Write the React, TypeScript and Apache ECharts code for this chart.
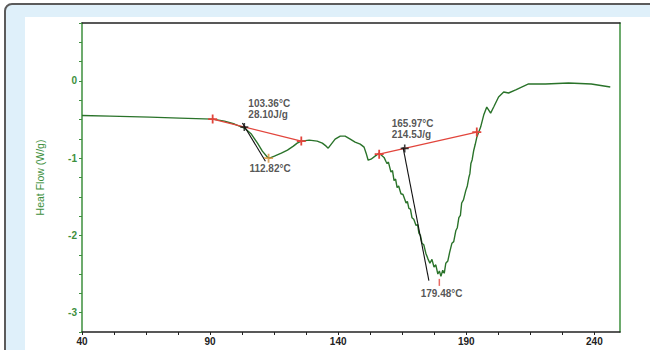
import React, { useEffect, useRef } from "react";
import * as echarts from "echarts";

// DSC thermogram: heat flow (W/g) against temperature (°C)
const tempC = [
  40, 50.9, 66.5, 78.1, 91.0, 95.6, 99.5, 103.4, 106.1, 108.5, 110.4, 112.4, 113.2,
  115.1, 117.8, 120.2, 122.5, 124.0, 125.6, 128.7, 131.8, 133.8, 135.3, 136.1, 137.3,
  138.8, 140.8, 142.7, 144.7, 146.6, 148.6, 150.1, 150.9, 151.7, 152.8, 154.4, 156.0,
  157.9, 158.6, 159.1, 159.6, 160.6, 161.2, 161.8, 162.4, 163.0, 163.6, 164.5, 165.3,
  166.5, 167.0, 167.6, 168.2, 168.8, 169.5, 170.4, 171.0, 171.5, 172.1, 172.7, 173.4,
  174.2, 175.0, 175.8, 176.6, 177.4, 178.1, 178.9, 179.5, 180.1, 180.8, 181.4, 182.0,
  182.8, 183.5, 184.4, 185.1, 185.9, 186.5, 187.1, 187.7, 188.2,
  188.9, 189.8, 190.4, 191.0, 191.4, 191.8, 192.3, 192.9, 193.5, 194.1, 195.6, 196.8,
  198.0, 199.5, 200.7, 202.6, 204.6, 206.5, 209.3, 214.3, 220.9, 229.9, 238.8, 246.2,
];
const heatFlow = [
  -0.448, -0.455, -0.468, -0.481, -0.494, -0.52, -0.558, -0.61, -0.688, -0.805, -0.909, -0.987, -1.0,
  -0.974, -0.935, -0.896, -0.844, -0.805, -0.779, -0.766, -0.779, -0.805, -0.844, -0.87, -0.818,
  -0.753, -0.714, -0.714, -0.753, -0.792, -0.818, -0.857, -0.935, -1.026, -1.013, -0.974, -0.935,
  -0.99, -1.04, -1.07, -1.05, -1.18, -1.16, -1.29, -1.27, -1.38, -1.36, -1.46, -1.47,
  -1.58, -1.56, -1.65, -1.66, -1.77, -1.79, -1.87, -1.86, -1.97, -2.0, -2.1, -2.12,
  -2.23, -2.3, -2.36, -2.31, -2.41, -2.38, -2.5, -2.46, -2.53, -2.45, -2.49, -2.36,
  -2.33, -2.22, -2.1, -2.08, -1.94, -1.9, -1.77, -1.74, -1.58,
  -1.54, -1.42, -1.36, -1.25, -1.2, -1.07, -1.02, -0.9, -0.82, -0.73, -0.597, -0.442,
  -0.338, -0.416, -0.338, -0.208, -0.143, -0.156, -0.117, -0.039, -0.039, -0.026, -0.039, -0.078,
];

// integration baselines (start and end of each peak)
const baseline1 = [[91.0, -0.494], [125.6, -0.779]];
const baseline2 = [[156.0, -0.948], [194.1, -0.662]];
// onset tangents
const tangent1 = [[102.6, -0.545], [111.6, -1.039]];
const tangent2 = [[165.3, -0.857], [175.4, -2.584]];

// peak analysis results
const onsetTemps = [103.36, 165.97];
const onsetFlows = [-0.596, -0.873];
const enthalpies = ["28.10J/g", "214.5J/g"];
const peakTemps = [112.82, 179.48];
const peakFlows = [-1.0, -2.53];

const xTicks = [40, 52.5, 65, 77.5, 90, 102.5, 115, 127.5, 140, 152.5, 165, 177.5, 190, 202.5, 215, 227.5, 240];
const xLabels = [40, 90, 140, 190, 240];
const yTicks = [-3.25, -3, -2.75, -2.5, -2.25, -2, -1.75, -1.5, -1.25, -1, -0.75, -0.5, -0.25, 0, 0.25, 0.5, 0.75];
const yLabels = [-3, -2, -1, 0];

const GREEN = "#2a732a";
const AXIS_GREEN = "#3d8f3d";
const RED = "#e2453c";
const FONT = "Liberation Sans";
const PLUS = "path://M4,0H6V4H10V6H6V10H4V6H0V4H4Z";

export default function App() {
  const ref = useRef<HTMLDivElement>(null);

  useEffect(() => {
    if (!ref.current) return;
    const chart = echarts.init(ref.current, null, { renderer: "svg" });
    const curve = tempC.map((t, i) => [t, heatFlow[i]]);
    const labelStyle = {
      show: true,
      fontFamily: FONT,
      fontSize: 10,
      fontWeight: "bold" as const,
      color: "#2a2a2a",
      lineHeight: 11,
    };

    chart.setOption({
      animation: false,
      backgroundColor: "transparent",
      grid: { left: 82, top: 23, right: 30, bottom: 18 },
      xAxis: [
        {
          type: "value",
          min: 40,
          max: 250,
          axisLine: { show: true, onZero: false, lineStyle: { color: "#222", width: 1.5 } },
          axisTick: { show: true, length: 3, customValues: xTicks, lineStyle: { color: "#222" } },
          axisLabel: {
            customValues: xLabels,
            color: "#222",
            fontFamily: FONT,
            fontSize: 10,
            fontWeight: "bold",
            margin: 4,
          },
          splitLine: { show: false },
        },
        {
          type: "value",
          position: "top",
          min: 40,
          max: 250,
          axisLine: { show: true, onZero: false, lineStyle: { color: "#222", width: 1.5 } },
          axisTick: { show: false },
          axisLabel: { show: false },
          splitLine: { show: false },
        },
      ],
      yAxis: [
        {
          type: "value",
          min: -3.25,
          max: 0.75,
          name: "Heat Flow (W/g)",
          nameLocation: "middle",
          nameGap: 37,
          nameTextStyle: { color: AXIS_GREEN, fontFamily: FONT, fontSize: 10.5 },
          axisLine: { show: true, onZero: false, lineStyle: { color: AXIS_GREEN, width: 1.5 } },
          axisTick: { show: true, length: 3, customValues: yTicks, lineStyle: { color: AXIS_GREEN } },
          axisLabel: {
            customValues: yLabels,
            color: AXIS_GREEN,
            fontFamily: FONT,
            fontSize: 10,
            fontWeight: "bold",
            margin: 5,
            formatter: (v: number) => String(v),
          },
          splitLine: { show: false },
        },
        {
          type: "value",
          position: "right",
          min: -3.25,
          max: 0.75,
          axisLine: { show: true, onZero: false, lineStyle: { color: AXIS_GREEN, width: 1.5 } },
          axisTick: { show: false },
          axisLabel: { show: false },
          splitLine: { show: false },
        },
      ],
      series: [
        {
          type: "line",
          data: curve,
          symbol: "none",
          lineStyle: { color: GREEN, width: 1.4 },
          z: 3,
        },
        {
          type: "line",
          data: baseline1,
          symbol: PLUS,
          symbolSize: 9,
          itemStyle: { color: RED },
          lineStyle: { color: RED, width: 1.3 },
          z: 4,
        },
        {
          type: "line",
          data: baseline2,
          symbol: PLUS,
          symbolSize: 9,
          itemStyle: { color: RED },
          lineStyle: { color: RED, width: 1.3 },
          z: 4,
        },
        {
          type: "line",
          data: tangent1,
          symbol: "none",
          lineStyle: { color: "#111", width: 1.1 },
          z: 5,
        },
        {
          type: "line",
          data: tangent2,
          symbol: "none",
          lineStyle: { color: "#111", width: 1.1 },
          z: 5,
        },
        // onset markers with temperature and enthalpy
        {
          type: "scatter",
          symbol: PLUS,
          symbolSize: 8,
          itemStyle: { color: "#111" },
          data: onsetTemps.map((t, i) => ({
            value: [t, onsetFlows[i]],
            label: {
              ...labelStyle,
              formatter: `${t.toFixed(2)}°C\n${enthalpies[i]}`,
              position: i === 0 ? [8, -25] : [-9, -26],
              align: "left",
              verticalAlign: "top",
            },
          })),
          z: 6,
        },
        // peak markers
        {
          type: "scatter",
          symbol: PLUS,
          symbolSize: 9,
          itemStyle: { color: "#d9913a" },
          data: [
            {
              value: [peakTemps[0], peakFlows[0]],
              label: {
                ...labelStyle,
                formatter: `${peakTemps[0].toFixed(2)}°C`,
                position: [6, 9],
                align: "center",
                verticalAlign: "top",
              },
            },
            {
              value: [peakTemps[1], peakFlows[1]],
              symbol: "rect",
              symbolSize: [1.5, 7],
              symbolOffset: [0, 6],
              itemStyle: { color: RED },
              label: {
                ...labelStyle,
                formatter: `${peakTemps[1].toFixed(2)}°C`,
                position: [3, 9],
                align: "center",
                verticalAlign: "top",
              },
            },
          ],
          z: 6,
        },
      ],
    });
    return () => chart.dispose();
  }, []);

  return (
    <div style={{ position: "fixed", left: 0, top: 0, width: 650, height: 350, overflow: "hidden", background: "#fff" }}>
      <div
        style={{
          position: "absolute",
          left: 4,
          top: 3,
          width: 700,
          height: 420,
          border: "2px solid #5b5b5b",
          borderRadius: 8,
          background: "#dff0fa",
        }}
      />
      <div style={{ position: "absolute", left: 25, top: 17, width: 700, height: 400, background: "#fff" }} />
      <div ref={ref} style={{ position: "absolute", left: 0, top: 0, width: 650, height: 350 }} />
    </div>
  );
}
